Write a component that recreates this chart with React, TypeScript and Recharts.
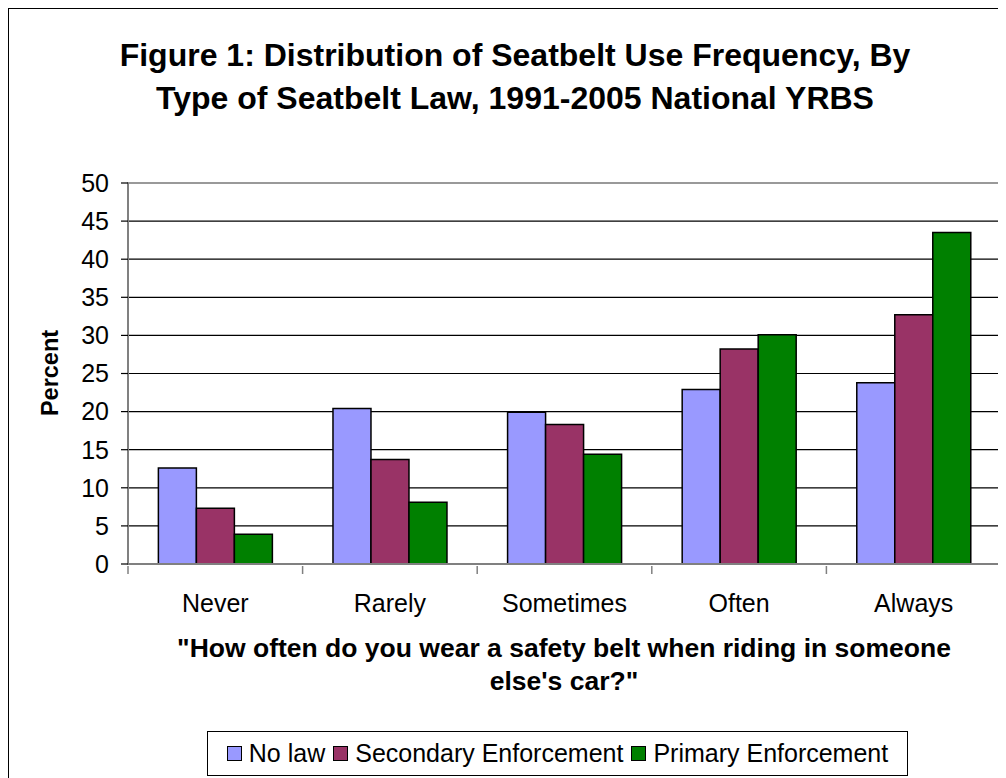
import { BarChart, Bar, XAxis, YAxis, CartesianGrid, ReferenceArea } from 'recharts';

const categories = ['Never', 'Rarely', 'Sometimes', 'Often', 'Always'];
const noLaw = [12.6, 20.4, 19.9, 22.9, 23.8];
const secondary = [7.3, 13.7, 18.3, 28.2, 32.7];
const primary = [3.9, 8.1, 14.4, 30.1, 43.5];
const seriesNames = ['No law', 'Secondary Enforcement', 'Primary Enforcement'];
const seriesColors = ['#9999FF', '#993366', '#008000'];
const yTicks = [0, 5, 10, 15, 20, 25, 30, 35, 40, 45, 50];

const data = categories.map((c, i) => ({ name: c, noLaw: noLaw[i], secondary: secondary[i], primary: primary[i] }));

const FONT = '"Liberation Sans", Arial, sans-serif';
const W = 998;
const H = 770;
const PLOT_LEFT = 120;
const PLOT_RIGHT = 5;
const BAND = (W - PLOT_LEFT - PLOT_RIGHT) / categories.length;

const XTick = (props: any) => {
  const { x, y, payload, index } = props;
  const ty = y - 6;
  return (
    <g>
      <line x1={x - BAND / 2} x2={x - BAND / 2} y1={ty} y2={ty + 8} stroke="#808080" strokeWidth={1.5} />
      {index === categories.length - 1 && (
        <line x1={x + BAND / 2} x2={x + BAND / 2} y1={ty} y2={ty + 8} stroke="#808080" strokeWidth={1.5} />
      )}
      <text x={x} y={ty + 46} textAnchor="middle" fontSize={25} fontFamily={FONT} fill="#000">{payload.value}</text>
    </g>
  );
};

export default function App() {
  const keys = ['noLaw', 'secondary', 'primary'];
  return (
    <div style={{ position: 'relative', width: W, height: H, overflow: 'hidden', fontFamily: FONT }}>
      <div style={{ position: 'absolute', left: 0, top: 0, width: 1100, height: 900, border: '1.5px solid #000' }} />
      <div style={{ position: 'absolute', left: 0, top: 0 }}>
        <BarChart width={W} height={H} data={data} margin={{ top: 175, right: PLOT_RIGHT, bottom: 174, left: 0 }}
          barCategoryGap="17.4%" barGap={0}>
          <CartesianGrid vertical={false} stroke="#000" strokeWidth={1.2} />
          <ReferenceArea y1={0} y2={50} fill="none" stroke="#999" strokeWidth={2} ifOverflow="visible" />
          <XAxis dataKey="name" height={40} axisLine={{ stroke: '#808080', strokeWidth: 2 }} tickLine={false} tick={<XTick />} interval={0} />
          <YAxis width={PLOT_LEFT} domain={[0, 50]} ticks={yTicks} interval={0}
            axisLine={{ stroke: '#808080', strokeWidth: 2 }} tickLine={{ stroke: '#000', strokeWidth: 1.2 }} tickSize={7} tickMargin={12}
            tick={{ fontSize: 25, fontFamily: FONT, fill: '#000' }} />
          {keys.map((k, i) => (
            <Bar key={k} dataKey={k} name={seriesNames[i]} fill={seriesColors[i]} stroke="#000" strokeWidth={1.5} isAnimationActive={false} />
          ))}
        </BarChart>
      </div>
      <div style={{ position: 'absolute', left: 0, width: 1014, top: 26, textAlign: 'center', fontWeight: 'bold', fontSize: 32, lineHeight: '43px', whiteSpace: 'nowrap' }}>
        Figure 1: Distribution of Seatbelt Use Frequency, By<br />Type of Seatbelt Law, 1991-2005 National YRBS
      </div>
      <div style={{ position: 'absolute', left: 42, top: 365, width: 0, height: 0 }}>
        <div style={{ position: 'absolute', transform: 'translate(-50%, -50%) rotate(-90deg)', fontWeight: 'bold', fontSize: 23.5, whiteSpace: 'nowrap' }}>Percent</div>
      </div>
      <div style={{ position: 'absolute', left: 56, width: 1000, top: 624, textAlign: 'center', fontWeight: 'bold', fontSize: 26.5, lineHeight: '33px', whiteSpace: 'nowrap' }}>
        "How often do you wear a safety belt when riding in someone<br />else's car?"
      </div>
      <div style={{ position: 'absolute', left: 199, top: 723, width: 701, height: 45, border: '1.5px solid #000', boxSizing: 'border-box',
        display: 'flex', alignItems: 'center', justifyContent: 'center', fontSize: 25, gap: 8, whiteSpace: 'nowrap' }}>
        {seriesNames.map((n, i) => (
          <span key={n} style={{ display: 'flex', alignItems: 'center', gap: 7 }}>
            <span style={{ width: 13, height: 13, background: seriesColors[i], border: '1.5px solid #000', display: 'inline-block' }} />
            {n}
          </span>
        ))}
      </div>
    </div>
  );
}
